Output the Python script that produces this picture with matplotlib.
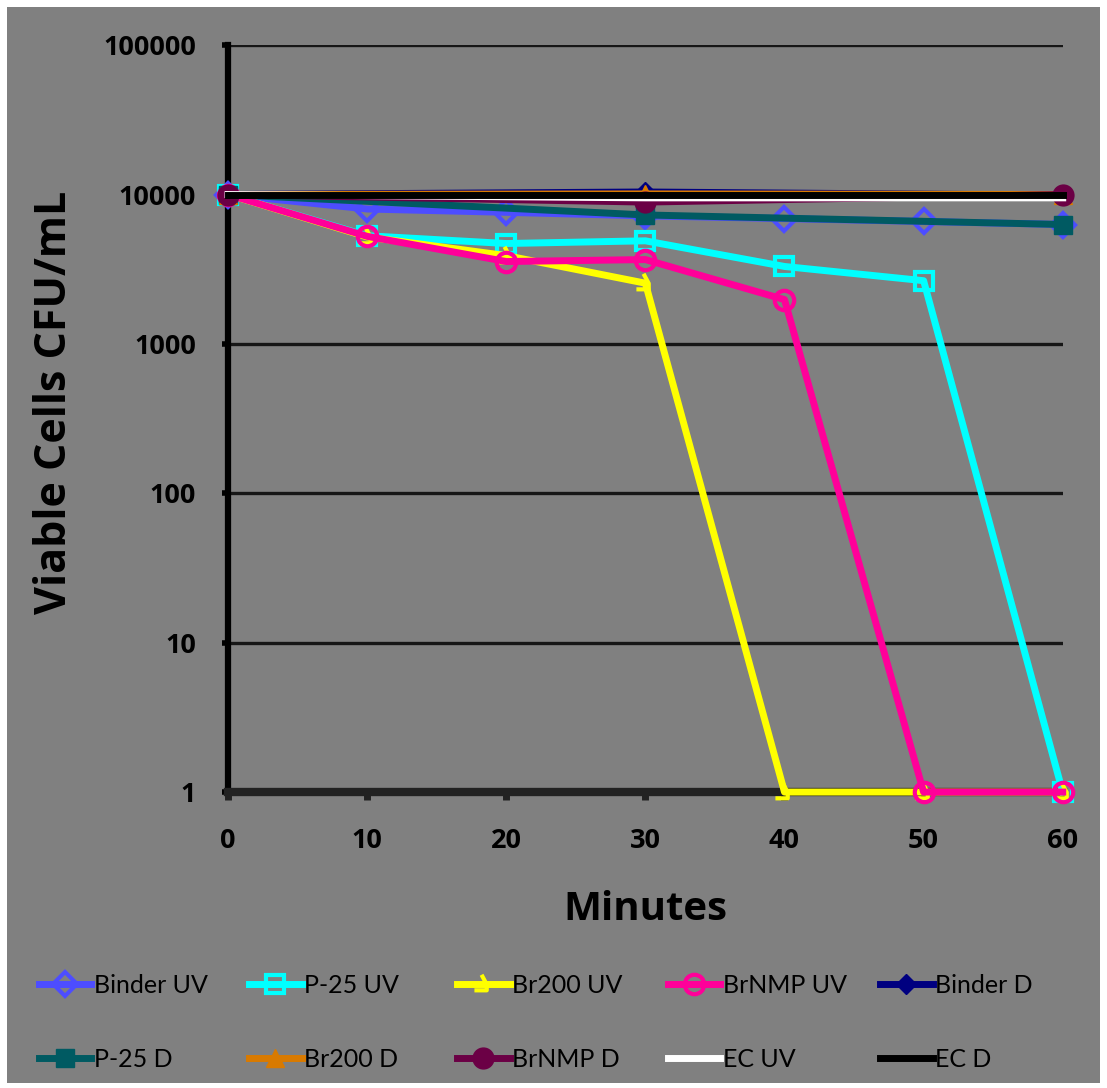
import numpy as np
import matplotlib.pyplot as plt
from matplotlib.path import Path
from matplotlib.patches import Rectangle

minutes = [0, 10, 20, 30, 40, 50, 60]
d_minutes = [0, 30, 60]

binder_uv = [10000, 8000, 7600, 7200, 6900, 6600, 6300]
p25_uv = [10000, 5300, 4700, 4900, 3300, 2650, 1]
br200_uv = [10000, 5200, 3900, 2550, 1, 1, 1]
brnmp_uv = [10000, 5250, 3560, 3670, 1980, 1, 1]
binder_d = [10000, 10400, 9900]
p25_d = [10000, 7300, 6300]
br200_d = [10000, 10100, 10000]
brnmp_d = [10000, 8900, 10000]
ec_uv = [10000, 9500, 9500]
ec_d = [10000, 10000, 10000]

gray = '#808080'

# odd little hook used for the Br200 UV marker
hook = Path([(-0.7, -0.45), (0.25, -0.45), (0.25, 0.0), (-0.15, 0.75)],
            [Path.MOVETO, Path.LINETO, Path.LINETO, Path.LINETO])

fig = plt.figure(figsize=(11.07, 10.88), dpi=100, facecolor='white')
fig.patches.append(Rectangle((0.006, 0.005), 0.988, 0.989, transform=fig.transFigure,
                             facecolor=gray, edgecolor='none', zorder=-10))
ax = fig.add_axes([0.206, 0.272, 0.754, 0.6865])
ax.set_facecolor(gray)

lw = 5
series = [
    (minutes, binder_uv, 'Binder UV', dict(color='#4D4DFF', marker='D', mfc='none', ms=12, mew=3)),
    (minutes, p25_uv, 'P-25 UV', dict(color='#00FFFF', marker='s', mfc='none', ms=13, mew=3)),
    (minutes, br200_uv, 'Br200 UV', dict(color='#FFFF00', marker=hook, mfc='none', ms=14, mew=3)),
    (minutes, brnmp_uv, 'BrNMP UV', dict(color='#FF0099', marker='o', mfc='none', ms=14, mew=3)),
    (d_minutes, binder_d, 'Binder D', dict(color='#000080', marker='D', ms=10)),
    (d_minutes, p25_d, 'P-25 D', dict(color='#005A62', marker='s', ms=13)),
    (d_minutes, br200_d, 'Br200 D', dict(color='#D97A00', marker='^', ms=13)),
    (d_minutes, brnmp_d, 'BrNMP D', dict(color='#6B0045', marker='o', ms=15)),
    (d_minutes, ec_uv, 'EC UV', dict(color='white')),
    (d_minutes, ec_d, 'EC D', dict(color='black')),
]

handles = []
for i, (x, y, name, st) in enumerate(series):
    h, = ax.plot(x, y, lw=lw, label=name, clip_on=False, zorder=3 + i, **st)
    handles.append(h)

ax.set_yscale('log')
ax.set_ylim(1, 100000)
ax.set_xlim(0, 60)
ax.set_xticks(minutes)
ax.set_yticks([1, 10, 100, 1000, 10000, 100000])
ax.set_yticklabels(['1', '10', '100', '1000', '10000', '100000'])
ax.minorticks_off()
ax.yaxis.grid(True, color='#161616', lw=2.4)
ax.set_axisbelow(True)

for s in ['top', 'right']:
    ax.spines[s].set_visible(False)
ax.spines['left'].set_linewidth(4.5)
ax.spines['left'].set_color('black')
ax.spines['bottom'].set_linewidth(6)
ax.spines['bottom'].set_color('#222222')
ax.spines['bottom'].set_zorder(2.5)

tick_font = dict(family='Open Sans', weight='bold', size=19.5)
ax.tick_params(axis='y', length=4, width=4, color='black', pad=19)
ax.tick_params(axis='x', length=6, width=5, color='#222222', pad=20)
for lab in ax.get_xticklabels() + ax.get_yticklabels():
    lab.set_fontproperties(tick_font)

ax.set_ylabel('Viable Cells CFU/mL', fontfamily='Open Sans', fontweight='bold',
              fontsize=31)
ax.yaxis.set_label_coords(-0.182, 0.522)
ax.set_xlabel('Minutes', fontfamily='Open Sans', fontweight='bold',
              fontsize=29, labelpad=26)

# Legend laid out as five columns of two entries each
col_x = [0.026, 0.216, 0.404, 0.594, 0.786]
for i, x0 in enumerate(col_x):
    fig.legend(handles=[handles[i], handles[i + 5]], loc='upper left',
               bbox_to_anchor=(x0, 0.114), frameon=False,
               prop=dict(family='Lato', size=18), handlelength=2.1,
               handletextpad=0.1, labelspacing=2.05, borderaxespad=0)

fig.savefig('out.png', dpi=100, facecolor=fig.get_facecolor())
